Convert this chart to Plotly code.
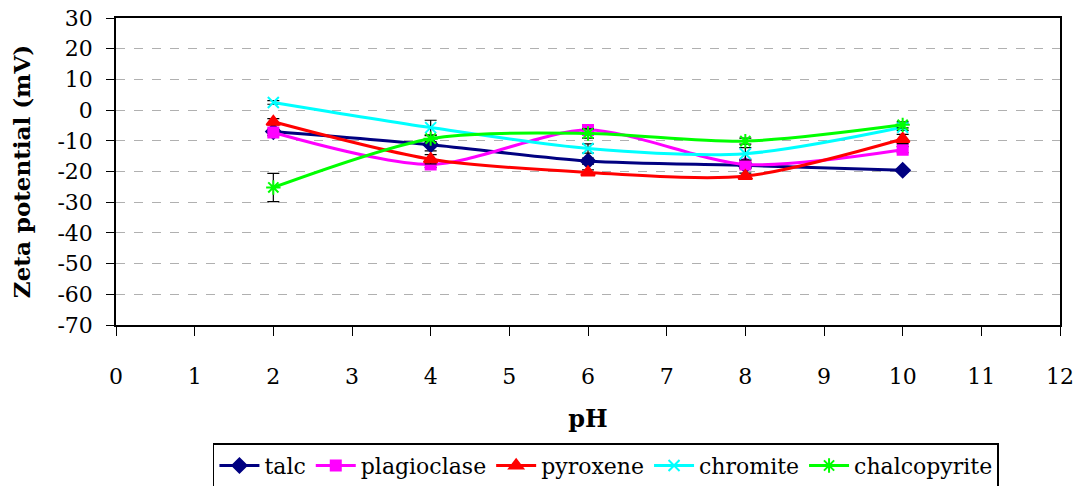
import plotly.graph_objects as go

# Zeta potential of mineral suspensions versus pH
ph = [2, 4, 6, 8, 10]

talc = [-7.0, -11.3, -16.6, -18.0, -19.6]
plagioclase = [-7.3, -17.7, -6.5, -17.7, -12.9]
pyroxene = [-3.8, -16.0, -20.3, -21.5, -9.4]
chromite = [2.5, -5.7, -12.5, -14.2, -5.6]
chalcopyrite = [-25.2, -9.3, -7.6, -10.1, -4.8]

talc_err = [0.5, 2.0, 1.0, 1.0, 0.5]
plagioclase_err = [1.0, 1.0, 1.2, 1.2, 1.0]
pyroxene_err = [1.0, 1.5, 0.8, 1.0, 1.5]
chromite_err = [0.6, 2.4, 1.5, 2.0, 1.0]
chalcopyrite_err = [4.6, 1.0, 1.5, 1.0, 1.0]

# y tick labels written with a plain hyphen
y_tick_vals = [30, 20, 10, 0, -10, -20, -30, -40, -50, -60, -70]
y_tick_text = ["30", "20", "10", "0", "-10", "-20", "-30", "-40", "-50", "-60", "-70"]

series = [
    ("talc", talc, talc_err, "#000080", "diamond", 11),
    ("plagioclase", plagioclase, plagioclase_err, "#FF00FF", "square", 10),
    ("pyroxene", pyroxene, pyroxene_err, "#FF0000", "triangle-up", 12),
    ("chromite", chromite, chromite_err, "#00FFFF", "x-thin-open", 11),
    ("chalcopyrite", chalcopyrite, chalcopyrite_err, "#00FF00", "asterisk-open", 12),
]

fig = go.Figure()
for name, vals, errs, color, symbol, size in series:
    fig.add_trace(go.Scatter(
        x=ph, y=vals, name=name, mode="lines+markers",
        line=dict(color=color, width=3, shape="spline", smoothing=0.8),
        marker=dict(symbol=symbol, size=size, color=color,
                    line=dict(color=color, width=2)),
        error_y=dict(type="data", array=errs, visible=True,
                     color="black", thickness=1.2, width=6),
    ))

serif = "DejaVu Serif"

fig.update_layout(
    width=1082, height=486,
    margin=dict(l=116, r=22, t=18, b=161, autoexpand=False),
    paper_bgcolor="white", plot_bgcolor="white",
    font=dict(family=serif, size=22, color="black"),
    showlegend=True,
    legend=dict(
        orientation="h", x=0.519, xanchor="center", y=-0.385, yanchor="top",
        bordercolor="black", borderwidth=1.5,
        font=dict(family=serif, size=22, color="black"),
        itemwidth=40, tracegroupgap=0,
    ),
    xaxis=dict(
        range=[0, 12], dtick=1, tick0=0, automargin=False,
        showgrid=False, zeroline=False,
        showline=True, linecolor="black", linewidth=1.5, mirror=True,
        ticks="outside", ticklen=9, tickcolor="black", tickwidth=1,
        ticklabelstandoff=22,
        tickfont=dict(family=serif, size=22),
        title=dict(text="<b>pH</b>", standoff=22,
                   font=dict(family=serif, size=24)),
    ),
    yaxis=dict(
        range=[-70, 30], automargin=False,
        tickmode="array", tickvals=y_tick_vals, ticktext=y_tick_text,
        showgrid=True, gridcolor="#B0B0B0", griddash="dash", gridwidth=1,
        zeroline=False,
        showline=True, linecolor="black", linewidth=1.5, mirror=True,
        ticks="outside", ticklen=8, tickcolor="black", tickwidth=1,
        ticklabelstandoff=9,
        tickfont=dict(family=serif, size=22),
        title=dict(text="<b>Zeta potential (mV)</b>", standoff=20,
                   font=dict(family=serif, size=23)),
    ),
)

fig.write_html("out.html")
